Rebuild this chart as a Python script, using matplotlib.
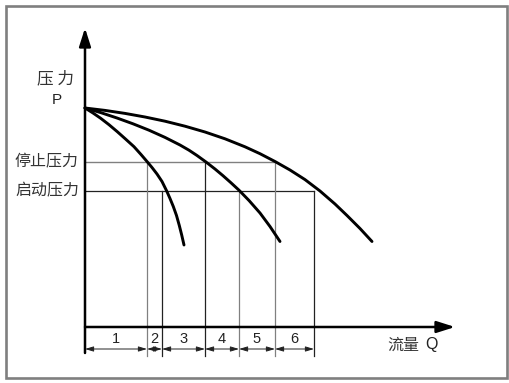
import matplotlib.pyplot as plt
from matplotlib.patches import Rectangle

plt.rcParams['font.family'] = ['Noto Sans CJK SC', 'DejaVu Sans']

# pump curves (flow Q, pressure P)
curve1_q = [0, 8, 15.7, 24, 32.3, 40.5, 49, 56, 62, 67, 72, 77, 81.7, 85, 88.3, 91.5, 94.3, 96.7, 99]
curve1_p = [219, 214, 208.7, 202.3, 195.3, 188, 180.3, 172.5, 165.5, 159.5, 153, 145.5, 136,
            128.5, 120.5, 111.5, 101.5, 92, 82]
curve2_q = [0, 16, 32, 48, 64, 80, 95, 104, 112, 121, 130, 138, 146, 154, 164, 175, 185, 195]
curve2_p = [219, 214.3, 209, 203.2, 196.8, 189.6, 182, 176.8, 171.5, 165, 158, 151.3, 144.2,
            136.8, 126.5, 114, 100.5, 85.5]
curve3_q = [0, 20, 40, 60, 80, 100, 120, 140, 160, 175, 190, 205, 220, 235, 250, 262, 275, 287]
curve3_p = [219, 216.6, 213.6, 210, 205.8, 200.8, 195, 188.2, 180.2, 173.3, 165.5, 157, 147.4,
            136, 123, 111.5, 98.5, 85.5]

p_stop = 165
p_start = 136
q_stop = [62, 120, 190]
q_start = [77, 154, 229]
segment_labels = ["1", "2", "3", "4", "5", "6"]

GRAY = "#808080"
DARK = "#222222"

fig = plt.figure(figsize=(5.1, 3.83), dpi=100)
ax = fig.add_axes([0, 0, 1, 1])
ax.set_xlim(-85, 425)
ax.set_ylim(-56, 327)
ax.axis('off')

# frame
fig.patches.append(Rectangle((6 / 510, 5 / 383), 501 / 510, 372 / 383,
                             transform=fig.transFigure, fill=False,
                             edgecolor="#7f7f7f", linewidth=1.9))

# axes with arrows
ax.annotate('', xy=(0, 299), xytext=(0, -26),
            arrowprops=dict(arrowstyle='-|>,head_length=1.1,head_width=0.35',
                            color='black', lw=1.8, shrinkA=0, shrinkB=0))
ax.annotate('', xy=(370, 0), xytext=(0, 0),
            arrowprops=dict(arrowstyle='-|>,head_length=1.1,head_width=0.35',
                            color='black', lw=1.8, shrinkA=0, shrinkB=0))

# pressure lines
ax.plot([0, max(q_stop)], [p_stop, p_stop], color=GRAY, lw=1.0)
ax.plot([0, max(q_start)], [p_start, p_start], color=DARK, lw=0.9)
stop_cols = [GRAY, DARK, GRAY]
start_cols = [DARK, GRAY, DARK]
for q, c in zip(q_stop, stop_cols):
    ax.plot([q, q], [p_stop, -29], color=c, lw=0.9)
for q, c in zip(q_start, start_cols):
    ax.plot([q, q], [p_start, -29], color=c, lw=0.9)

# curves
for qs, ps in [(curve1_q, curve1_p), (curve2_q, curve2_p), (curve3_q, curve3_p)]:
    ax.plot(qs, ps, color='black', lw=2.1, solid_capstyle='round',
            solid_joinstyle='round')

# dimension arrows and segment numbers
bounds = sorted([0] + q_stop + q_start)
for i, lab in enumerate(segment_labels):
    a, b = bounds[i], bounds[i + 1]
    ax.annotate('', xy=(b, -22), xytext=(a, -22),
                arrowprops=dict(arrowstyle='<|-|>,head_length=0.5,head_width=0.15',
                                color=DARK, lw=0.7, shrinkA=0, shrinkB=0))
    ax.text((a + b) / 2, -12, lab, ha='center', va='center', fontsize=10.5,
            family=['Liberation Sans', 'DejaVu Sans'], color='#222222')

# labels
ax.text(-29, 248, "压 力", ha='center', va='center', fontsize=12, color='#333333')
ax.text(-28, 227, "P", ha='center', va='center', fontsize=11,
        family=['Liberation Sans', 'DejaVu Sans'], color='#222222')
ax.text(-6, p_stop, "停止压力", ha='right', va='center', fontsize=11.5, color='#333333')
ax.text(-6, p_start, "启动压力", ha='right', va='center', fontsize=11.5, color='#333333')
ax.text(302, -18, "流量", ha='left', va='center', fontsize=11.5, color='#333333')
ax.text(340, -18, "Q", ha='left', va='center', fontsize=11.5,
        family=['Liberation Sans', 'DejaVu Sans'], color='#222222')

fig.savefig("out.png", dpi=100)
